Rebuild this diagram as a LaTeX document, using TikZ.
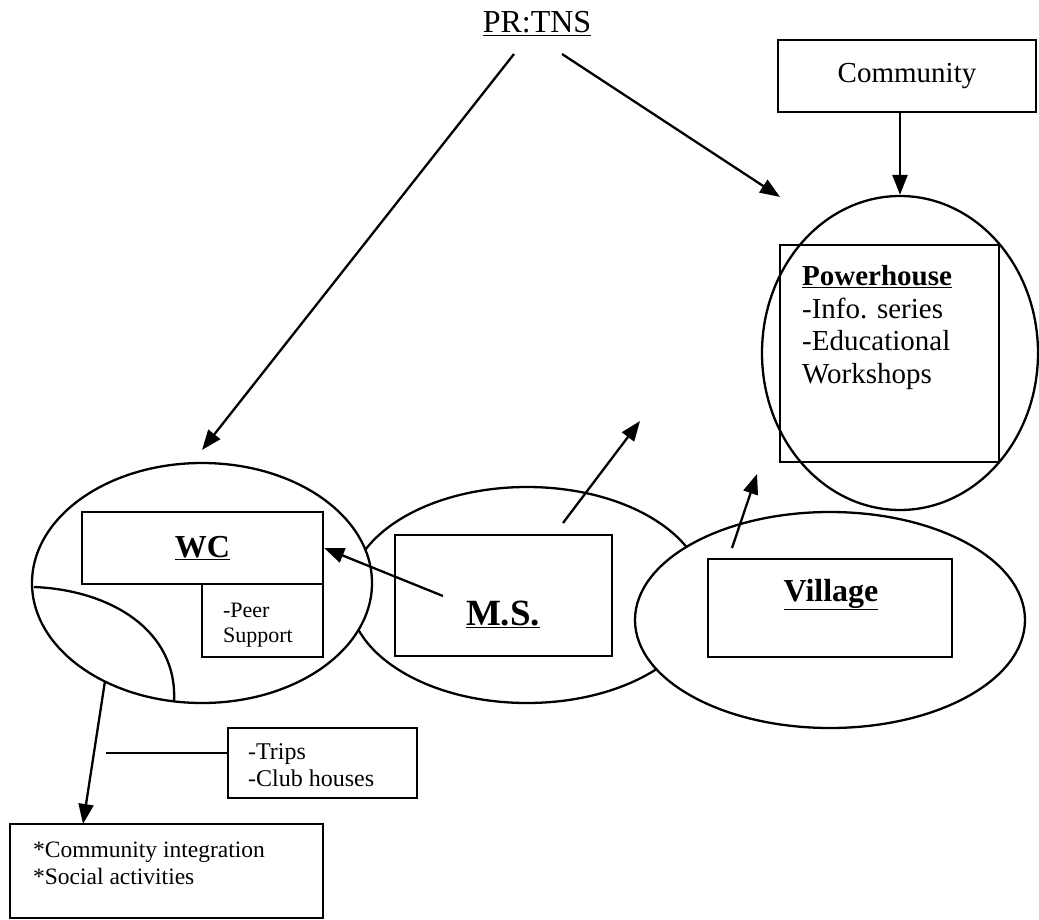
\documentclass[tikz,border=0pt]{standalone}
\usepackage{fontspec}
\setmainfont{Liberation Serif}
\usetikzlibrary{arrows.meta,shapes.geometric}
\begin{document}
\begin{tikzpicture}[x=1pt,y=-1pt,
  line width=2.3pt,
  box/.style={draw, rectangle, inner sep=0pt},
  oval/.style={draw, ellipse, inner sep=0pt},
  arr/.style={-{Triangle[length=20pt,width=15pt]}},
  txt/.style={inner sep=0pt, align=left},
]
\useasboundingbox (0,0) rectangle (1039,920);

% ovals
\node[oval, minimum width=356, minimum height=216] (ms) at (527,595) {};
\node[oval, fill=white, minimum width=340, minimum height=240] (wc) at (202,583) {};
\node[oval, fill=white, minimum width=390, minimum height=216] (village) at (830,620) {};
\node[oval, minimum width=276, minimum height=314] (power) at (900,353) {};

% inner curve of WC
\coordinate (cs) at (34,587);
\coordinate (ce) at (174,702);
\draw (cs) .. controls (110,590) and (178,630) .. (ce);

% title
\node[anchor=base, inner sep=0pt, font=\fontsize{32}{38}\selectfont] (prtns) at (537,33) {\underline{PR:TNS}};

% boxes
\node[box, minimum width=258, minimum height=72, font=\fontsize{29}{34}\selectfont] (community) at (907,76) {Community};
\node[box, minimum width=219, minimum height=217] (phbox) at (889.5,353.5) {};
\node[txt, anchor=base west, font=\fontsize{29}{32.5}\selectfont] (phtext) at (801,383) {\textbf{\underline{Powerhouse}}\\-Info. series\\-Educational\\Workshops};

\node[box, minimum width=241, minimum height=72, font=\bfseries\fontsize{32}{38}\selectfont] (wcbox) at (202.5,548) {\underline{WC}};
\node[box, minimum width=121, minimum height=73] (peer) at (262.5,620.5) {};
\node[txt, anchor=base west, font=\fontsize{22}{25}\selectfont] (peertext) at (222,642) {-Peer\\Support};

\node[box, minimum width=217, minimum height=121] (msbox) at (503.5,595.5) {};
\node[anchor=base, inner sep=0pt, font=\bfseries\fontsize{37}{44}\selectfont] (mslabel) at (503,625) {\underline{M.S.}};

\node[box, minimum width=244, minimum height=98] (vbox) at (830,608) {};
\node[anchor=base, inner sep=0pt, font=\bfseries\fontsize{32}{38}\selectfont] (vlabel) at (831,601) {\underline{Village}};

\node[box, minimum width=189, minimum height=70] (trips) at (322.5,763) {};
\node[txt, anchor=base west, font=\fontsize{24}{27}\selectfont] (tripstext) at (247,786) {-Trips\\-Club houses};

\node[box, minimum width=313, minimum height=94] (ci) at (166.5,871) {};
\node[txt, anchor=base west, font=\fontsize{23.5}{27}\selectfont] (citext) at (32,884) {*Community integration\\*Social activities};

% connectors
\coordinate (p1) at (514,54);
\coordinate (t1) at (202,450);
\draw[arr] (p1) -- (t1);
\coordinate (p2) at (562,54);
\coordinate (t2) at (780,197);
\draw[arr] (p2) -- (t2);
\draw[arr] (community.south -| power.north) -- (power.north);

\coordinate (m1) at (443,596);
\draw[arr] (m1) -- (wcbox.east);
\coordinate (m2) at (563,523);
\coordinate (m3) at (640,421);
\draw[arr] (m2) -- (m3);
\coordinate (v1) at (732,548);
\coordinate (v2) at (757,474);
\draw[arr] (v1) -- (v2);

\coordinate (w1) at (105,681);
\coordinate (c1) at (83,824);
\draw[arr] (w1) -- (c1);
\coordinate (tl) at (106,753);
\draw (tl) -- (tl -| trips.west);
\end{tikzpicture}
\end{document}
